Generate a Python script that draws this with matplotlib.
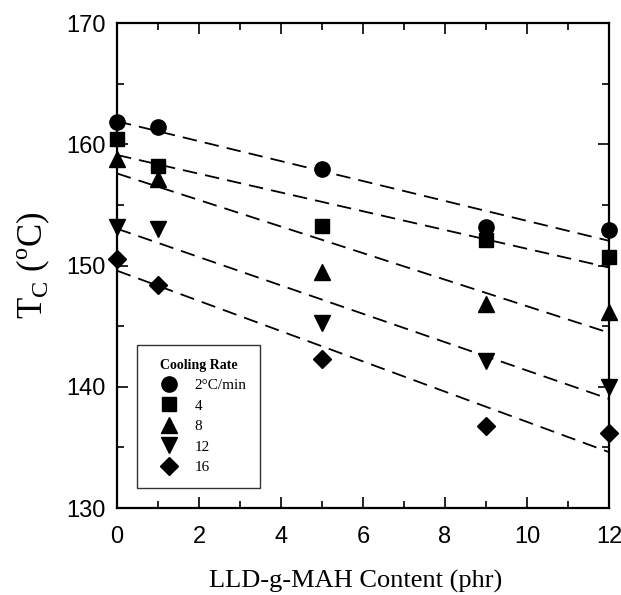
import numpy as np
import matplotlib
matplotlib.use("Agg")
import matplotlib.pyplot as plt
from matplotlib.ticker import MultipleLocator

# LLD-g-MAH content (phr)
content = [0, 1, 5, 9, 12]

# Crystallization temperature Tc (°C) for each cooling rate
tc_2 = [161.8, 161.4, 158.0, 153.2, 152.9]
tc_4 = [160.4, 158.2, 153.3, 152.1, 150.7]
tc_8 = [158.8, 157.1, 149.5, 146.8, 146.2]
tc_12 = [153.2, 153.0, 145.3, 142.1, 140.0]
tc_16 = [150.5, 148.4, 142.3, 136.8, 136.2]

series_labels = ["2°C/min", "4", "8", "12", "16"]
series_values = [tc_2, tc_4, tc_8, tc_12, tc_16]
series_markers = ["o", "s", "^", "v", "D"]
series_sizes = [11, 9.5, 11, 11, 9]

fig = plt.figure(figsize=(6.21, 5.95), dpi=100)
ax = fig.add_axes([0.1884, 0.1462, 0.7923, 0.8151])

x = np.asarray(content, dtype=float)
handles = []
for vals, mk, ms, lab in zip(series_values, series_markers, series_sizes, series_labels):
    y = np.asarray(vals, dtype=float)
    slope, icept = np.polyfit(x, y, 1)
    xf = np.array([0.0, 12.0])
    ax.plot(xf, slope * xf + icept, color="black", lw=1.3,
            dashes=(8, 4.5), zorder=2)
    h, = ax.plot(x, y, linestyle="none", marker=mk, ms=ms,
                 color="black", label=lab, zorder=3, clip_on=False)
    handles.append(h)

ax.set_xlim(0, 12)
ax.set_ylim(130, 170)
ax.xaxis.set_major_locator(MultipleLocator(2))
ax.xaxis.set_minor_locator(MultipleLocator(1))
ax.yaxis.set_major_locator(MultipleLocator(10))
ax.yaxis.set_minor_locator(MultipleLocator(5))

for s in ax.spines.values():
    s.set_linewidth(1.6)

ax.tick_params(which="both", direction="in", top=True, right=True,
               width=1.2)
ax.tick_params(which="major", length=8)
ax.tick_params(which="minor", length=5)
ax.tick_params(axis="y", which="major", pad=8)
ax.tick_params(axis="x", which="major", pad=13)

for lbl in ax.get_xticklabels() + ax.get_yticklabels():
    lbl.set_fontfamily("Liberation Sans")
    lbl.set_fontsize(17)

ax.set_xlabel("LLD-g-MAH Content (phr)", family="Liberation Serif",
              fontsize=19, labelpad=16)
ax.xaxis.label.set_x(0.484)
ax.set_ylabel(r"T$_\mathregular{C}$ ($^\mathregular{o}$C)",
              family="Liberation Serif", fontsize=25, labelpad=10)

leg = ax.legend(handles=handles, loc="lower left",
                bbox_to_anchor=(0.04, 0.041), title="Cooling Rate",
                frameon=True, fancybox=False, edgecolor="black",
                prop={"family": "Liberation Serif", "size": 11},
                handlelength=2.4, handletextpad=0.5, labelspacing=0.45,
                borderpad=0.9, markerscale=1.0, borderaxespad=0)
leg.get_frame().set_linewidth(1.0)
leg.get_title().set_fontfamily("Liberation Serif")
leg.get_title().set_fontsize(10)
leg.get_title().set_fontweight("bold")

fig.savefig("out.png", dpi=100)
